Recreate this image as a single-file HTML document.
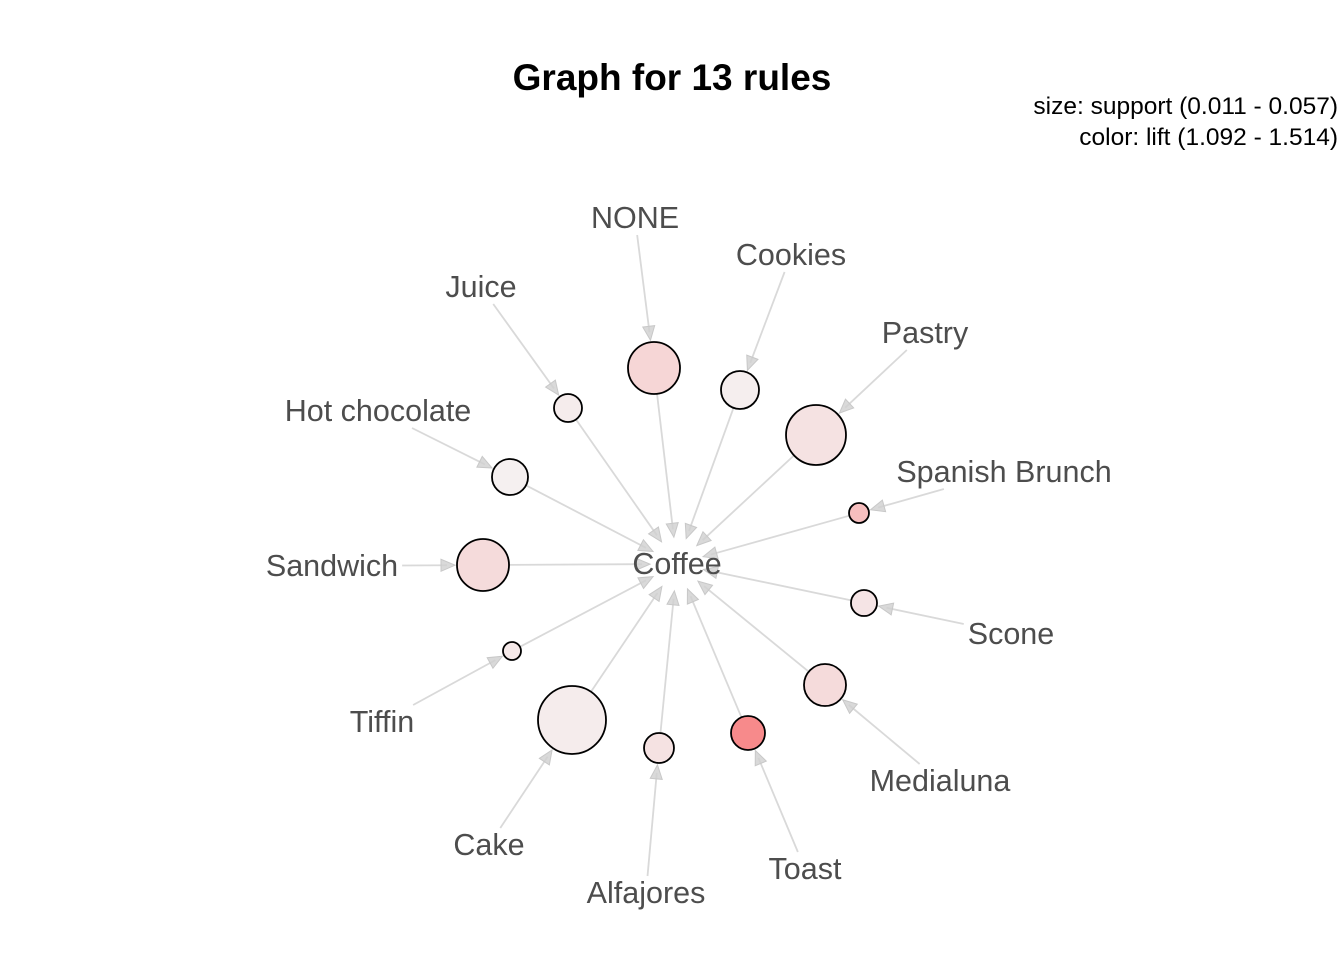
<!DOCTYPE html>
<html><head><meta charset="utf-8"><style>
body{margin:0;background:#fff;}
svg{display:block;font-family:"Liberation Sans",Arial,sans-serif;}
</style></head><body>
<svg id="chart" width="1344" height="960" viewBox="0 0 1344 960">
<text x="672" y="90" text-anchor="middle" font-size="37" font-weight="bold" fill="#000">Graph for 13 rules</text>
<text x="1338" y="114" text-anchor="end" font-size="24.5" fill="#000">size: support (0.011 - 0.057)</text>
<text x="1338" y="145" text-anchor="end" font-size="24.5" fill="#000">color: lift (1.092 - 1.514)</text>
<g id="edges"></g><g id="nodes"></g><g id="labels"></g>
</svg>
<script>
const items=["NONE","Cookies","Pastry","Spanish Brunch","Scone","Medialuna","Toast","Alfajores","Cake","Tiffin","Sandwich","Hot chocolate","Juice"];
const support=[0.0423,0.0294,0.0496,0.0128,0.0184,0.0331,0.0257,0.022,0.057,0.011,0.0423,0.0276,0.0202];
const lift=[1.20,1.10,1.15,1.30,1.14,1.18,1.514,1.15,1.11,1.12,1.18,1.092,1.11];
const consequent="Coffee";
// layout (pixel positions of rule nodes and item labels)
const nodePos=[[654,368],[740,390],[816,435],[859,513],[864,603],[825,685],[748,733],[659,748],[572,720],[512,651],[483,565],[510,477],[568,408]];
const labelPos=[[635,218],[791,255],[925,333],[1004,472],[1011,634],[940,781],[805,869],[646,893],[489,845],[382,722],[332,566],[378,411],[481,287]];
const center=[677,564];
const NS="http://www.w3.org/2000/svg";
const sMin=0.011,sMax=0.057,lMin=1.092,lMax=1.514;
const rScale=s=>9+(s-sMin)/(sMax-sMin)*25;
function col(l){const t=(l-lMin)/(lMax-lMin);const a=[245,240,240],b=[247,138,139];return `rgb(${a.map((v,i)=>Math.round(v+(b[i]-v)*t)).join(',')})`;}
const E=document.getElementById('edges'),N=document.getElementById('nodes'),L=document.getElementById('labels');
function arrow(x1,y1,x2,y2,name){
  const dx=x2-x1,dy=y2-y1,d=Math.hypot(dx,dy),ux=dx/d,uy=dy/d;
  const ln=document.createElementNS(NS,'line');
  
  
  ln.setAttribute('x1',x1);ln.setAttribute('y1',y1);ln.setAttribute('x2',x2-ux*8);ln.setAttribute('y2',y2-uy*8);
  ln.setAttribute('stroke','#d9d9d9');ln.setAttribute('stroke-width','1.8');E.appendChild(ln);
  const p=document.createElementNS(NS,'polygon');
  
  
  const bx=x2-ux*14,by=y2-uy*14;
  p.setAttribute('points',`${x2},${y2} ${bx-uy*6},${by+ux*6} ${bx+uy*6},${by-ux*6}`);
  p.setAttribute('fill','#cfcfcf');p.setAttribute('fill-opacity','0.8');p.setAttribute('stroke','#c8c8c8');p.setAttribute('stroke-width','1');E.appendChild(p);
}
function addText(x,y,s,name){
  const t=document.createElementNS(NS,'text');
  
  
  t.setAttribute('x',x);t.setAttribute('y',y+10);t.setAttribute('text-anchor','middle');t.setAttribute('font-size','30.5');t.setAttribute('fill','#4d4d4d');
  t.textContent=s;L.appendChild(t);return t;
}
addText(center[0],center[1],consequent,'label-coffee');
items.forEach((it,i)=>{
  const [nx,ny]=nodePos[i],[lx,ly]=labelPos[i],r=rScale(support[i]);
  const key=it.toLowerCase().replace(/ /g,'-');
  const t=addText(lx,ly,it,'label-'+key);
  const hw=t.getComputedTextLength()/2+4,hh=17;
  let dx=nx-lx,dy=ny-ly,d=Math.hypot(dx,dy),ux=dx/d,uy=dy/d;
  const s=Math.min(hw/Math.abs(ux||1e-9),hh/Math.abs(uy||1e-9));
  arrow(lx+ux*s,ly+uy*s,nx-ux*(r+2),ny-uy*(r+2),'edge-'+key+'-to-rule');
  dx=center[0]-nx;dy=center[1]-ny;d=Math.hypot(dx,dy);ux=dx/d;uy=dy/d;
  arrow(nx+ux*r,ny+uy*r,center[0]-ux*27,center[1]-uy*27,'edge-rule-'+key+'-to-coffee');
  const c=document.createElementNS(NS,'circle');
  
  
  c.setAttribute('cx',nx);c.setAttribute('cy',ny);c.setAttribute('r',r);
  c.setAttribute('fill',col(lift[i]));c.setAttribute('stroke','#000');c.setAttribute('stroke-width','1.8');N.appendChild(c);
});
</script>
</body></html>
